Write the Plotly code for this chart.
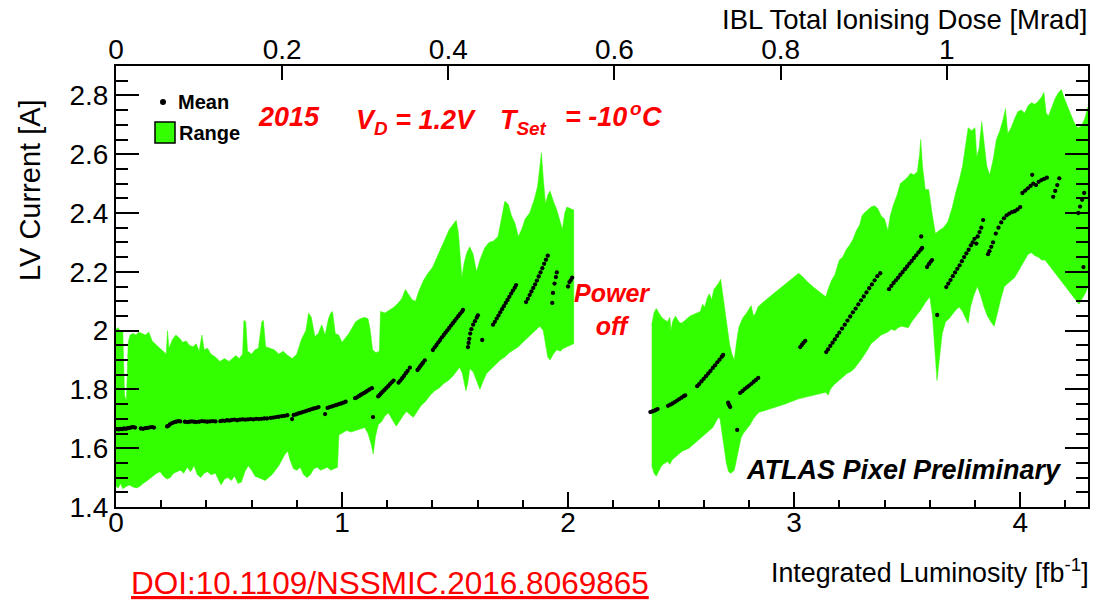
import plotly.graph_objects as go

# ---------------- data ----------------
LUM_TICKS = [0, 1, 2, 3, 4]
CUR_TICKS = [1.4, 1.6, 1.8, 2.0, 2.2, 2.4, 2.6, 2.8]
CUR_TICKTEXT = ["1.4", "1.6", "1.8", "2", "2.2", "2.4", "2.6", "2.8"]
DOSE_TICKS = [0, 0.2, 0.4, 0.6, 0.8, 1.0]
DOSE_TICKTEXT = ["0", "0.2", "0.4", "0.6", "0.8", "1"]
LUM_RANGE = [0, 4.3]
DOSE_RANGE = [0, 1.17]
CUR_RANGE = [1.4, 2.9]

mean_pts = [
    (0.004, 1.665), (0.012, 1.664), (0.020, 1.666), (0.028, 1.665), (0.036, 1.667), (0.044, 1.666),
    (0.052, 1.668), (0.060, 1.669), (0.068, 1.671), (0.076, 1.672), (0.084, 1.670), (0.110, 1.667),
    (0.120, 1.666), (0.130, 1.668), (0.140, 1.669), (0.150, 1.671), (0.160, 1.672), (0.168, 1.670),
    (0.226, 1.674), (0.232, 1.676), (0.238, 1.681), (0.248, 1.685), (0.258, 1.689), (0.266, 1.690),
    (0.276, 1.692), (0.284, 1.691), (0.305, 1.690), (0.315, 1.689), (0.325, 1.690), (0.335, 1.691),
    (0.345, 1.690), (0.355, 1.689), (0.368, 1.690), (0.380, 1.692), (0.392, 1.691), (0.404, 1.690),
    (0.416, 1.691), (0.428, 1.692), (0.440, 1.691), (0.462, 1.692), (0.472, 1.694), (0.482, 1.693),
    (0.492, 1.695), (0.502, 1.694), (0.512, 1.696), (0.524, 1.697), (0.536, 1.695), (0.548, 1.697),
    (0.560, 1.698), (0.572, 1.697), (0.584, 1.698), (0.596, 1.699), (0.608, 1.698), (0.620, 1.700),
    (0.632, 1.699), (0.644, 1.700), (0.656, 1.701), (0.668, 1.701), (0.684, 1.703), (0.696, 1.704),
    (0.708, 1.706), (0.720, 1.707), (0.734, 1.709), (0.746, 1.710), (0.758, 1.712), (0.779, 1.699),
    (0.786, 1.713), (0.796, 1.715), (0.806, 1.718), (0.816, 1.720), (0.826, 1.723), (0.836, 1.725),
    (0.846, 1.728), (0.856, 1.730), (0.866, 1.733), (0.876, 1.735), (0.886, 1.737), (0.896, 1.740),
    (0.925, 1.716), (0.936, 1.737), (0.946, 1.740), (0.956, 1.742), (0.966, 1.745), (0.976, 1.747),
    (0.986, 1.750), (0.996, 1.752), (1.006, 1.755), (1.016, 1.758), (1.058, 1.770), (1.066, 1.773),
    (1.074, 1.777), (1.082, 1.781), (1.090, 1.785), (1.098, 1.788), (1.106, 1.792), (1.114, 1.796),
    (1.122, 1.800), (1.132, 1.804), (1.137, 1.706), (1.160, 1.776), (1.166, 1.781), (1.172, 1.786),
    (1.180, 1.792), (1.188, 1.798), (1.196, 1.805), (1.204, 1.811), (1.212, 1.818), (1.220, 1.824),
    (1.228, 1.830), (1.250, 1.823), (1.258, 1.830), (1.266, 1.838), (1.274, 1.846), (1.282, 1.855),
    (1.290, 1.863), (1.300, 1.874), (1.334, 1.866), (1.340, 1.872), (1.346, 1.879), (1.352, 1.885),
    (1.358, 1.891), (1.366, 1.899), (1.402, 1.934), (1.410, 1.943), (1.418, 1.951), (1.426, 1.960),
    (1.434, 1.968), (1.442, 1.977), (1.450, 1.985), (1.458, 1.993), (1.466, 2.001), (1.474, 2.009),
    (1.482, 2.017), (1.490, 2.025), (1.498, 2.033), (1.506, 2.041), (1.514, 2.049), (1.522, 2.057),
    (1.530, 2.064), (1.535, 2.070), (1.557, 1.944), (1.560, 1.958), (1.563, 1.972), (1.567, 1.990),
    (1.572, 2.005), (1.580, 2.020), (1.588, 2.032), (1.596, 2.044), (1.601, 2.052), (1.620, 1.968),
    (1.668, 2.020), (1.676, 2.030), (1.684, 2.041), (1.692, 2.051), (1.700, 2.062), (1.708, 2.073),
    (1.716, 2.083), (1.724, 2.094), (1.732, 2.104), (1.740, 2.115), (1.748, 2.126), (1.756, 2.136),
    (1.764, 2.146), (1.770, 2.155), (1.814, 2.097), (1.822, 2.108), (1.830, 2.121), (1.838, 2.133),
    (1.846, 2.145), (1.854, 2.157), (1.862, 2.170), (1.870, 2.184), (1.878, 2.198), (1.886, 2.212),
    (1.894, 2.227), (1.902, 2.241), (1.910, 2.255), (1.930, 2.094), (1.933, 2.128), (1.940, 2.160),
    (1.946, 2.182), (1.950, 2.198), (2.000, 2.150), (2.006, 2.165), (2.012, 2.172), (2.018, 2.180),
    (2.364, 1.723), (2.372, 1.725), (2.380, 1.727), (2.388, 1.730), (2.396, 1.733), (2.442, 1.744),
    (2.452, 1.748), (2.462, 1.752), (2.472, 1.757), (2.482, 1.762), (2.492, 1.767), (2.502, 1.772),
    (2.512, 1.777), (2.518, 1.780), (2.571, 1.811), (2.580, 1.818), (2.590, 1.827), (2.600, 1.836),
    (2.610, 1.845), (2.620, 1.854), (2.630, 1.863), (2.640, 1.873), (2.650, 1.882), (2.660, 1.892),
    (2.670, 1.901), (2.680, 1.911), (2.686, 1.917), (2.708, 1.755), (2.711, 1.749), (2.714, 1.744),
    (2.717, 1.740), (2.748, 1.662), (2.761, 1.788), (2.771, 1.794), (2.781, 1.801), (2.791, 1.807),
    (2.801, 1.813), (2.811, 1.819), (2.821, 1.826), (2.831, 1.832), (2.841, 1.839), (3.027, 1.944),
    (3.034, 1.951), (3.041, 1.958), (3.049, 1.965), (3.142, 1.927), (3.150, 1.936), (3.160, 1.948),
    (3.170, 1.959), (3.180, 1.970), (3.190, 1.982), (3.200, 1.993), (3.212, 2.007), (3.224, 2.020),
    (3.236, 2.034), (3.248, 2.048), (3.260, 2.062), (3.272, 2.075), (3.284, 2.089), (3.296, 2.103),
    (3.308, 2.116), (3.320, 2.130), (3.332, 2.144), (3.344, 2.157), (3.356, 2.171), (3.368, 2.185),
    (3.381, 2.195), (3.420, 2.141), (3.430, 2.152), (3.440, 2.162), (3.450, 2.171), (3.460, 2.180),
    (3.470, 2.190), (3.480, 2.199), (3.490, 2.209), (3.500, 2.218), (3.510, 2.228), (3.520, 2.237),
    (3.530, 2.247), (3.540, 2.256), (3.550, 2.266), (3.560, 2.275), (3.566, 2.281), (3.562, 2.320),
    (3.588, 2.216), (3.596, 2.226), (3.604, 2.234), (3.610, 2.240), (3.633, 2.053), (3.673, 2.148),
    (3.682, 2.160), (3.692, 2.172), (3.702, 2.185), (3.712, 2.198), (3.722, 2.210), (3.732, 2.222),
    (3.742, 2.236), (3.752, 2.250), (3.762, 2.263), (3.772, 2.275), (3.782, 2.290), (3.790, 2.300),
    (3.798, 2.312), (3.806, 2.296), (3.812, 2.320), (3.820, 2.335), (3.828, 2.350), (3.836, 2.376),
    (3.858, 2.260), (3.864, 2.270), (3.872, 2.285), (3.880, 2.300), (3.892, 2.330), (3.904, 2.350),
    (3.916, 2.368), (3.928, 2.382), (3.940, 2.392), (3.952, 2.398), (3.964, 2.403), (3.976, 2.406),
    (3.988, 2.412), (4.000, 2.420), (4.010, 2.468), (4.022, 2.476), (4.034, 2.484), (4.046, 2.492),
    (4.058, 2.500), (4.070, 2.495), (4.082, 2.506), (4.094, 2.512), (4.106, 2.516), (4.118, 2.520),
    (4.053, 2.530), (4.146, 2.455), (4.155, 2.475), (4.164, 2.495), (4.173, 2.518), (4.257, 2.400),
    (4.265, 2.422), (4.274, 2.445), (4.283, 2.468), (4.280, 2.216),
]
mean_lum = [p[0] for p in mean_pts]
mean_cur = [p[1] for p in mean_pts]

upper1 = [
    (0.000, 2.005), (0.010, 2.010), (0.020, 1.995), (0.030, 2.000), (0.038, 1.780), (0.046, 1.760),
    (0.054, 1.960), (0.062, 1.985), (0.075, 1.990), (0.090, 1.985), (0.100, 1.995), (0.115, 1.990),
    (0.130, 1.985), (0.145, 1.995), (0.160, 1.965), (0.180, 1.950), (0.200, 1.935), (0.215, 1.925),
    (0.222, 1.920), (0.228, 2.000), (0.234, 1.940), (0.250, 1.970), (0.265, 1.985), (0.280, 1.975),
    (0.295, 1.960), (0.310, 1.965), (0.325, 1.950), (0.340, 1.945), (0.355, 1.955), (0.368, 1.930),
    (0.380, 1.985), (0.390, 1.935), (0.405, 1.940), (0.420, 1.920), (0.440, 1.910), (0.460, 1.895),
    (0.480, 1.905), (0.500, 1.895), (0.515, 1.905), (0.530, 1.915), (0.545, 1.905), (0.560, 1.920),
    (0.566, 2.035), (0.574, 2.030), (0.582, 1.930), (0.600, 1.920), (0.615, 1.935), (0.630, 1.940),
    (0.645, 2.030), (0.652, 2.035), (0.662, 1.945), (0.680, 1.940), (0.700, 1.935), (0.720, 1.920),
    (0.740, 1.930), (0.760, 1.915), (0.780, 1.905), (0.800, 1.920), (0.820, 1.970), (0.840, 2.000),
    (0.852, 2.060), (0.864, 2.045), (0.880, 1.980), (0.895, 1.990), (0.910, 2.020), (0.925, 1.985),
    (0.940, 2.040), (0.950, 2.060), (0.958, 2.065), (0.970, 1.990), (0.985, 1.985), (1.000, 1.960),
    (1.015, 1.975), (1.030, 1.990), (1.045, 2.010), (1.060, 2.030), (1.080, 2.040), (1.100, 2.045),
    (1.115, 2.040), (1.125, 2.000), (1.135, 1.935), (1.150, 1.925), (1.165, 1.930), (1.170, 2.065),
    (1.190, 2.060), (1.210, 2.070), (1.230, 2.080), (1.250, 2.095), (1.265, 2.110), (1.280, 2.140),
    (1.295, 2.120), (1.310, 2.105), (1.325, 2.100), (1.340, 2.135), (1.360, 2.170), (1.380, 2.195),
    (1.400, 2.215), (1.420, 2.250), (1.440, 2.285), (1.460, 2.320), (1.475, 2.345), (1.490, 2.360),
    (1.505, 2.375), (1.515, 2.330), (1.522, 2.250), (1.530, 2.180), (1.540, 2.230), (1.552, 2.265),
    (1.565, 2.285), (1.580, 2.260), (1.595, 2.200), (1.610, 2.240), (1.630, 2.280), (1.650, 2.300),
    (1.670, 2.305), (1.690, 2.320), (1.705, 2.380), (1.720, 2.440), (1.735, 2.430), (1.750, 2.390),
    (1.765, 2.365), (1.780, 2.320), (1.795, 2.345), (1.810, 2.380), (1.830, 2.400), (1.850, 2.445),
    (1.865, 2.490), (1.875, 2.550), (1.882, 2.605), (1.890, 2.520), (1.900, 2.430), (1.910, 2.460),
    (1.920, 2.475), (1.935, 2.440), (1.950, 2.410), (1.965, 2.370), (1.975, 2.345), (1.985, 2.400),
    (1.995, 2.420), (2.010, 2.415), (2.025, 2.410),
]
lower1 = [
    (0.000, 1.470), (0.010, 1.465), (0.020, 1.480), (0.030, 1.462), (0.045, 1.470), (0.060, 1.475),
    (0.075, 1.468), (0.090, 1.465), (0.105, 1.470), (0.120, 1.480), (0.135, 1.488), (0.150, 1.495),
    (0.165, 1.505), (0.180, 1.515), (0.195, 1.520), (0.210, 1.505), (0.225, 1.495), (0.240, 1.500),
    (0.255, 1.515), (0.270, 1.520), (0.285, 1.525), (0.300, 1.515), (0.315, 1.535), (0.330, 1.520),
    (0.345, 1.540), (0.360, 1.510), (0.375, 1.500), (0.390, 1.515), (0.405, 1.520), (0.420, 1.510),
    (0.440, 1.515), (0.455, 1.490), (0.465, 1.475), (0.480, 1.495), (0.495, 1.500), (0.510, 1.490),
    (0.525, 1.505), (0.540, 1.480), (0.555, 1.485), (0.570, 1.520), (0.585, 1.540), (0.600, 1.525),
    (0.615, 1.505), (0.630, 1.500), (0.645, 1.495), (0.660, 1.490), (0.675, 1.500), (0.690, 1.510),
    (0.705, 1.525), (0.720, 1.540), (0.735, 1.560), (0.748, 1.580), (0.760, 1.590), (0.770, 1.560),
    (0.785, 1.530), (0.800, 1.525), (0.815, 1.535), (0.830, 1.510), (0.845, 1.500), (0.860, 1.510),
    (0.875, 1.530), (0.890, 1.535), (0.905, 1.525), (0.920, 1.530), (0.935, 1.535), (0.950, 1.525),
    (0.965, 1.530), (0.980, 1.535), (0.986, 1.645), (1.000, 1.650), (1.020, 1.660), (1.040, 1.655),
    (1.060, 1.660), (1.080, 1.665), (1.100, 1.670), (1.115, 1.650), (1.130, 1.610), (1.138, 1.580),
    (1.148, 1.640), (1.160, 1.680), (1.175, 1.690), (1.190, 1.710), (1.205, 1.720), (1.220, 1.700),
    (1.240, 1.675), (1.255, 1.690), (1.270, 1.710), (1.285, 1.725), (1.300, 1.715), (1.315, 1.705),
    (1.330, 1.720), (1.350, 1.745), (1.370, 1.760), (1.390, 1.780), (1.410, 1.795), (1.430, 1.805),
    (1.450, 1.820), (1.470, 1.830), (1.490, 1.845), (1.505, 1.860), (1.520, 1.875), (1.532, 1.855),
    (1.540, 1.820), (1.548, 1.795), (1.556, 1.820), (1.565, 1.870), (1.580, 1.860), (1.595, 1.830),
    (1.610, 1.800), (1.625, 1.830), (1.640, 1.855), (1.660, 1.870), (1.680, 1.885), (1.700, 1.900),
    (1.720, 1.910), (1.740, 1.925), (1.760, 1.935), (1.780, 1.945), (1.800, 1.960), (1.820, 1.975),
    (1.840, 1.990), (1.860, 2.005), (1.875, 2.015), (1.890, 2.000), (1.900, 1.955), (1.910, 1.910),
    (1.920, 1.900), (1.935, 1.920), (1.950, 1.935), (1.965, 1.930), (1.980, 1.940), (1.995, 1.945),
    (2.010, 1.950), (2.025, 1.955),
]
upper2 = [
    (2.370, 2.020), (2.380, 2.060), (2.390, 2.075), (2.400, 2.060), (2.410, 2.050), (2.420, 2.040),
    (2.430, 2.035), (2.440, 2.030), (2.450, 2.045), (2.455, 2.000), (2.462, 2.030), (2.475, 2.050),
    (2.490, 2.030), (2.500, 2.025), (2.510, 2.030), (2.525, 2.040), (2.540, 2.050), (2.555, 2.055),
    (2.570, 2.060), (2.585, 2.065), (2.595, 2.090), (2.605, 2.080), (2.615, 2.110), (2.625, 2.125),
    (2.635, 2.105), (2.645, 2.140), (2.655, 2.150), (2.665, 2.160), (2.675, 2.175), (2.685, 2.120),
    (2.695, 2.060), (2.705, 2.000), (2.715, 1.950), (2.725, 1.920), (2.735, 1.900), (2.745, 1.960),
    (2.755, 2.010), (2.765, 2.030), (2.775, 2.045), (2.790, 2.060), (2.800, 2.075), (2.810, 2.085),
    (2.820, 2.050), (2.830, 2.060), (2.840, 2.080), (2.860, 2.095), (2.900, 2.120), (2.940, 2.145),
    (2.980, 2.170), (3.020, 2.195), (3.035, 2.185), (3.060, 2.165), (3.090, 2.145), (3.120, 2.125),
    (3.140, 2.115), (3.150, 2.140), (3.165, 2.170), (3.180, 2.190), (3.190, 2.215), (3.200, 2.240),
    (3.215, 2.250), (3.230, 2.275), (3.245, 2.290), (3.260, 2.310), (3.275, 2.340), (3.290, 2.360),
    (3.300, 2.390), (3.310, 2.400), (3.325, 2.410), (3.340, 2.420), (3.355, 2.425), (3.370, 2.415),
    (3.385, 2.390), (3.400, 2.380), (3.415, 2.340), (3.425, 2.390), (3.440, 2.430), (3.455, 2.460),
    (3.470, 2.500), (3.485, 2.510), (3.500, 2.520), (3.515, 2.535), (3.530, 2.530), (3.545, 2.540),
    (3.555, 2.600), (3.560, 2.650), (3.568, 2.560), (3.580, 2.480), (3.595, 2.480), (3.610, 2.400),
    (3.625, 2.330), (3.640, 2.340), (3.660, 2.350), (3.680, 2.370), (3.700, 2.420), (3.715, 2.470),
    (3.730, 2.510), (3.745, 2.560), (3.760, 2.640), (3.770, 2.690), (3.785, 2.680), (3.800, 2.690),
    (3.808, 2.590), (3.818, 2.620), (3.830, 2.710), (3.840, 2.640), (3.852, 2.560), (3.865, 2.530),
    (3.880, 2.580), (3.895, 2.650), (3.910, 2.680), (3.925, 2.720), (3.935, 2.755), (3.945, 2.670),
    (3.960, 2.690), (3.975, 2.720), (3.990, 2.745), (4.005, 2.750), (4.020, 2.740), (4.035, 2.765),
    (4.050, 2.775), (4.065, 2.770), (4.080, 2.780), (4.095, 2.795), (4.105, 2.810), (4.115, 2.740),
    (4.125, 2.730), (4.140, 2.760), (4.155, 2.790), (4.170, 2.810), (4.182, 2.820), (4.195, 2.790),
    (4.210, 2.760), (4.225, 2.730), (4.240, 2.705), (4.255, 2.690), (4.270, 2.695), (4.285, 2.720),
    (4.300, 2.760),
]
lower2 = [
    (2.370, 1.540), (2.380, 1.515), (2.390, 1.505), (2.400, 1.520), (2.410, 1.535), (2.420, 1.545),
    (2.430, 1.550), (2.440, 1.555), (2.450, 1.545), (2.460, 1.560), (2.475, 1.570), (2.490, 1.580),
    (2.505, 1.590), (2.520, 1.595), (2.535, 1.600), (2.550, 1.610), (2.565, 1.620), (2.580, 1.630),
    (2.595, 1.640), (2.610, 1.650), (2.625, 1.660), (2.640, 1.670), (2.655, 1.690), (2.665, 1.705),
    (2.672, 1.700), (2.680, 1.650), (2.690, 1.600), (2.700, 1.550), (2.710, 1.520), (2.720, 1.515),
    (2.735, 1.525), (2.745, 1.560), (2.755, 1.600), (2.765, 1.635), (2.775, 1.650), (2.790, 1.665),
    (2.805, 1.680), (2.820, 1.700), (2.835, 1.715), (2.845, 1.722), (2.900, 1.735), (2.960, 1.750),
    (3.020, 1.768), (3.030, 1.770), (3.050, 1.775), (3.080, 1.780), (3.110, 1.785), (3.140, 1.790),
    (3.150, 1.780), (3.160, 1.800), (3.175, 1.815), (3.190, 1.825), (3.205, 1.835), (3.220, 1.845),
    (3.235, 1.855), (3.250, 1.860), (3.265, 1.870), (3.280, 1.885), (3.295, 1.900), (3.310, 1.915),
    (3.325, 1.935), (3.340, 1.955), (3.355, 1.965), (3.370, 1.975), (3.385, 1.985), (3.400, 1.990),
    (3.415, 1.995), (3.430, 2.005), (3.445, 2.000), (3.460, 2.010), (3.475, 2.015), (3.490, 2.012),
    (3.505, 2.010), (3.520, 2.030), (3.540, 2.050), (3.560, 2.070), (3.580, 2.095), (3.600, 2.115),
    (3.612, 2.050), (3.622, 1.940), (3.632, 1.830), (3.642, 1.900), (3.655, 1.990), (3.670, 2.030),
    (3.685, 2.040), (3.700, 2.055), (3.715, 2.070), (3.730, 2.080), (3.745, 2.065), (3.760, 2.040),
    (3.770, 2.025), (3.780, 2.080), (3.795, 2.120), (3.810, 2.150), (3.825, 2.120), (3.840, 2.080),
    (3.855, 2.050), (3.870, 2.030), (3.885, 2.015), (3.900, 2.060), (3.915, 2.110), (3.930, 2.150),
    (3.945, 2.160), (3.960, 2.170), (3.975, 2.180), (3.990, 2.200), (4.005, 2.220), (4.020, 2.240),
    (4.035, 2.260), (4.050, 2.265), (4.065, 2.255), (4.080, 2.250), (4.095, 2.240), (4.110, 2.240),
    (4.125, 2.225), (4.140, 2.210), (4.155, 2.195), (4.170, 2.180), (4.185, 2.165), (4.200, 2.150),
    (4.215, 2.135), (4.230, 2.120), (4.245, 2.105), (4.260, 2.090), (4.275, 2.110), (4.290, 2.130),
    (4.300, 2.150),
]

# ---------------- figure ----------------
OFF = 8                      # page body margin in the browser
W, H = 1101 - OFF, 601 - OFF
L, R, T, B = 116 - OFF, 13, 66 - OFF, 94
PW, PH = W - L - R, H - T - B


def px(x, y):
    """page pixel -> paper coordinate"""
    return (x - OFF - L) / PW, (H - B - (y - OFF)) / PH


GREEN = "#33ff00"
RED = "#ff0000"
FONT = "Liberation Sans, Arial, Helvetica, sans-serif"

fig = go.Figure()
for up, lo in [(upper1, lower1), (upper2, lower2)]:
    xs = [p[0] for p in up] + [p[0] for p in reversed(lo)]
    ys = [p[1] for p in up] + [p[1] for p in reversed(lo)]
    fig.add_trace(go.Scatter(x=xs, y=ys, fill="toself", fillcolor=GREEN, mode="lines",
                             line=dict(color=GREEN, width=0.5), showlegend=False, hoverinfo="skip"))

fig.add_trace(go.Scatter(x=mean_lum, y=mean_cur, mode="markers",
                         marker=dict(color="black", size=4.3), showlegend=False))

# invisible trace to carry the top (dose) axis
fig.add_trace(go.Scatter(x=DOSE_TICKS, y=[None] * len(DOSE_TICKS), xaxis="x2", mode="lines",
                         showlegend=False, hoverinfo="skip"))

tickfont = dict(family=FONT, size=28, color="black")

fig.update_layout(
    width=W, height=H, margin=dict(l=L, r=R, t=T, b=B, autoexpand=False),
    paper_bgcolor="white", plot_bgcolor="white", showlegend=False,
    font=dict(family=FONT, color="black"),
    xaxis=dict(range=LUM_RANGE, tickvals=LUM_TICKS, ticks="inside", ticklen=15, tickwidth=1.5,
               tickcolor="black", showline=True, linewidth=2, linecolor="black", mirror=False,
               showgrid=False, zeroline=False, tickfont=tickfont, automargin=False,
               ticklabelstandoff=-11,
               minor=dict(dtick=0.2, ticks="inside", ticklen=7, tickwidth=1.5, tickcolor="black",
                          showgrid=False)),
    xaxis2=dict(range=DOSE_RANGE, overlaying="x", side="top", anchor="y", tickvals=DOSE_TICKS,
                ticktext=DOSE_TICKTEXT, ticks="inside", ticklen=14, tickwidth=1.5,
                tickcolor="black", showline=True, linewidth=2, linecolor="black",
                showgrid=False, zeroline=False, tickfont=tickfont, automargin=False,
                ticklabelstandoff=-6),
    yaxis=dict(range=CUR_RANGE, tickvals=CUR_TICKS, ticktext=CUR_TICKTEXT, ticks="inside",
               ticklen=23, tickwidth=1.5, tickcolor="black", showline=True, linewidth=2,
               linecolor="black", mirror="ticks", showgrid=False, zeroline=False,
               tickfont=tickfont, automargin=False,
               minor=dict(dtick=0.05, ticks="inside", ticklen=12, tickwidth=1.5,
                          tickcolor="black", showgrid=False)),
)

ann = []


def add_text(text, x, y, size, color="black", xanchor="left", yanchor="middle", angle=0):
    xp, yp = px(x, y)
    ann.append(dict(text=text, x=xp, y=yp, xref="paper", yref="paper", showarrow=False,
                    xanchor=xanchor, yanchor=yanchor, textangle=angle,
                    font=dict(family=FONT, size=size, color=color)))


add_text("LV Current [A]", 30, 190, 29, xanchor="center", angle=-90)
add_text("Integrated Luminosity [fb<sup>-1</sup>]", 1091, 571, 26.8, xanchor="right")
add_text("IBL Total Ionising Dose [Mrad]", 1089, 20, 27.5, xanchor="right")
add_text("<u>DOI:10.1109/NSSMIC.2016.8069865</u>", 390, 583, 31.5, color=RED, xanchor="center")
add_text("<b>Mean</b>", 176, 102, 20)
add_text("<b>Range</b>", 177, 133, 20)
add_text("<b><i>2015</i></b>", 256, 117, 27, color=RED)
add_text("<b><i>V<sub>D</sub>&nbsp;= 1.2V</i></b>", 354, 122, 27, color=RED)
add_text("<b><i>T<sub>Set</sub></i></b>", 498, 122, 27, color=RED)
add_text("<b><i>=&nbsp;-10</i></b>", 563, 117, 27, color=RED)
add_text("<b><i>o</i></b>", 628, 108, 19, color=RED)
add_text("<b><i>C</i></b>", 640, 117, 27, color=RED)
add_text("<b><i>Power<br>off</i></b>", 612, 309, 25, color=RED, xanchor="center")
add_text("<b><i>ATLAS Pixel Preliminary</i></b>", 744, 470, 27)
fig.update_layout(annotations=ann)

# legend symbols
cx, cy = px(163, 102)
fig.add_shape(type="circle", xref="paper", yref="paper", xsizemode="pixel", ysizemode="pixel",
              xanchor=cx, yanchor=cy, x0=-3, x1=3, y0=-3, y1=3,
              fillcolor="black", line=dict(color="black", width=0))
bx0, by0 = px(155, 143)
bx1, by1 = px(175, 122)
fig.add_shape(type="rect", xref="paper", yref="paper", x0=bx0, x1=bx1, y0=by0, y1=by1,
              fillcolor=GREEN, line=dict(color="black", width=1.5))

fig.write_html("out.html")
